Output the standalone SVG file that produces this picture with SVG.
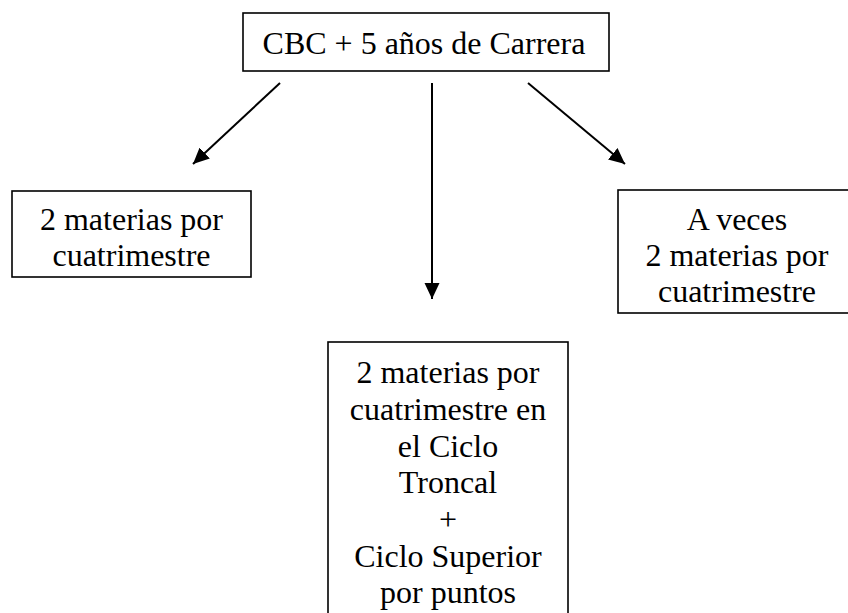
<svg xmlns="http://www.w3.org/2000/svg" width="848" height="613" viewBox="0 0 848 613">
<style>
.box{fill:#fff;stroke:#000;stroke-width:1.6}
.t{font-family:'Liberation Serif',Tinos,'Times New Roman',Times,'DejaVu Serif',serif;font-size:32px;fill:#000;text-anchor:middle}
.c{stroke:#000;stroke-width:2;fill:none;marker-end:url(#ah)}
</style>
<defs>
<marker id="ah" markerUnits="userSpaceOnUse" markerWidth="18" markerHeight="16" refX="16" refY="7.5" orient="auto">
<path d="M0,0 L16,7.5 L0,15 Z" fill="#000"/>
</marker>
</defs>
<rect width="848" height="613" fill="#fff"/>
<g id="n-top">
<rect class="box" x="243" y="13" width="366" height="58"/>
<text class="t" x="424" y="54">CBC + 5 años de Carrera</text>
</g>
<g id="n-left">
<rect class="box" x="12" y="191" width="239" height="86"/>
<text class="t" x="131.5" y="230">2 materias por</text>
<text class="t" x="131.5" y="266">cuatrimestre</text>
</g>
<g id="n-right">
<rect class="box" x="618" y="190" width="238" height="123"/>
<text class="t" x="737" y="230">A veces</text>
<text class="t" x="737" y="266">2 materias por</text>
<text class="t" x="737" y="302">cuatrimestre</text>
</g>
<g id="n-bottom">
<rect class="box" x="328" y="342" width="240" height="290"/>
<text class="t" x="448" y="383">2 materias por</text>
<text class="t" x="448" y="420">cuatrimestre en</text>
<text class="t" x="448" y="457">el Ciclo</text>
<text class="t" x="448" y="493">Troncal</text>
<text class="t" x="448" y="530">+</text>
<text class="t" x="448" y="567">Ciclo Superior</text>
<text class="t" x="448" y="603">por puntos</text>
</g>
<g id="connectors">
<line class="c" x1="280" y1="83" x2="193" y2="164"/>
<line class="c" x1="432" y1="83" x2="432" y2="299"/>
<line class="c" x1="528" y1="83" x2="625" y2="164"/>
</g>
</svg>
